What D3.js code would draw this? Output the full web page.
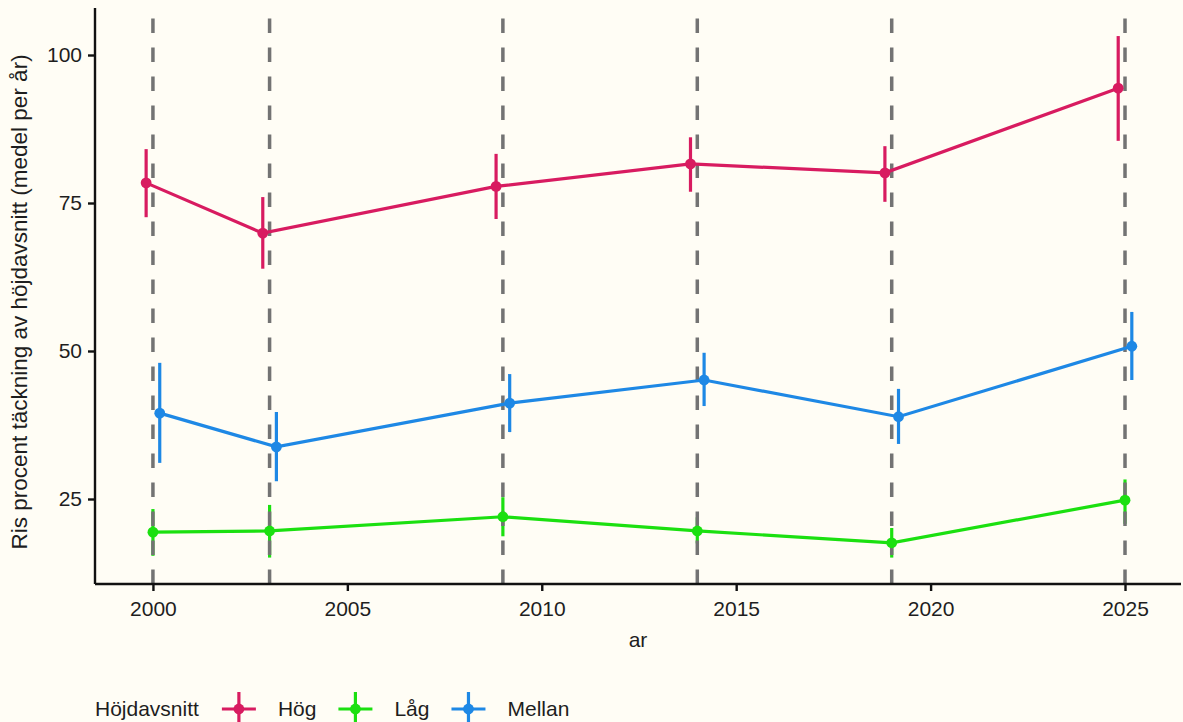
<!DOCTYPE html>
<html>
<head>
<meta charset="utf-8">
<script src="https://cdn.jsdelivr.net/npm/d3@7"></script>
<style>
  html, body { margin: 0; padding: 0; background: #fffdf5; }
  svg { display: block; font-family: "Liberation Sans", Arial, sans-serif; }
</style>
</head>
<body>
<svg id="chart" width="1183" height="722"></svg>
<script>
// Survey years (also where the dashed reference lines sit)
const years = [2000, 2003, 2009, 2014, 2019, 2025];
const groups = ["Hög", "Låg", "Mellan"];
const groupColors = ["#d81b60", "#1be010", "#1e88e5"];

// Mean cover and interval bounds per elevation band
const hogMean  = [78.4, 69.9, 77.8, 81.6, 80.1, 94.4];
const hogLow   = [72.6, 63.9, 72.3, 76.9, 75.2, 85.5];
const hogHigh  = [84.1, 76.0, 83.3, 86.1, 84.6, 103.2];

const lagMean  = [19.4, 19.6, 22.0, 19.6, 17.6, 24.8];
const lagLow   = [15.4, 15.1, 18.7, 17.5, 15.1, 20.8];
const lagHigh  = [23.3, 24.0, 25.3, 21.9, 20.1, 28.3];

const mellanMean = [39.5, 33.8, 41.2, 45.1, 38.9, 50.8];
const mellanLow  = [31.1, 28.0, 36.3, 40.7, 34.3, 45.1];
const mellanHigh = [48.0, 39.7, 46.1, 49.7, 43.6, 56.6];

const xTicks = [2000, 2005, 2010, 2015, 2020, 2025];
const yTicks = [25, 50, 75, 100];

const xTitle = "ar";
const yTitle = "Ris procent täckning av höjdavsnitt (medel per år)";
const legendTitle = "Höjdavsnitt";

const seriesMeans = [hogMean, lagMean, mellanMean];
const seriesLows = [hogLow, lagLow, mellanLow];
const seriesHighs = [hogHigh, lagHigh, mellanHigh];
const dodgeOffsets = [-0.175, 0, 0.175];

const series = groups.map((g, gi) => ({
  name: g,
  color: groupColors[gi],
  points: years.map((yr, i) => ({
    x: yr + dodgeOffsets[gi],
    y: seriesMeans[gi][i],
    lo: seriesLows[gi][i],
    hi: seriesHighs[gi][i]
  }))
}));

const panel = { left: 95, right: 1181, top: 8, bottom: 584 };
const x = d3.scaleLinear().domain([1998.51, 2026.44]).range([panel.left, panel.right]);
const y = d3.scaleLinear().domain([10.64, 107.94]).range([panel.bottom, panel.top]);

const svg = d3.select("#chart");
const fontSize = 21;
const textColor = "#1e1e1e";

svg.append("rect").attr("width", 1183).attr("height", 722).attr("fill", "#fffdf5");

const plot = svg.append("g");

// Interval bars
series.forEach(s => {
  plot.append("g").selectAll("line").data(s.points).join("line")
    .attr("x1", d => x(d.x)).attr("x2", d => x(d.x))
    .attr("y1", d => y(d.lo)).attr("y2", d => y(d.hi))
    .attr("stroke", s.color).attr("stroke-width", 3.2);
});

// Dashed reference lines at each survey year
plot.append("g").selectAll("line").data(years).join("line")
  .attr("x1", d => x(d)).attr("x2", d => x(d))
  .attr("y1", panel.bottom).attr("y2", panel.top)
  .attr("stroke", "#737373").attr("stroke-width", 3.5)
  .attr("stroke-dasharray", "14.5,14.5");

// Trend lines
const lineGen = d3.line().x(d => x(d.x)).y(d => y(d.y));
series.forEach(s => {
  plot.append("path").datum(s.points)
    .attr("d", lineGen)
    .attr("fill", "none").attr("stroke", s.color).attr("stroke-width", 3.2);
});

// Mean points
series.forEach(s => {
  plot.append("g").selectAll("circle").data(s.points).join("circle")
    .attr("cx", d => x(d.x)).attr("cy", d => y(d.y)).attr("r", 5.4)
    .attr("fill", s.color);
});

// Axes
const xAxis = svg.append("g").attr("transform", `translate(0,${panel.bottom})`)
  .call(d3.axisBottom(x).tickValues(xTicks).tickFormat(d3.format("d")).tickSize(7).tickPadding(10));
const yAxis = svg.append("g").attr("transform", `translate(${panel.left},0)`)
  .call(d3.axisLeft(y).tickValues(yTicks).tickSize(7).tickPadding(6));

[xAxis, yAxis].forEach(a => {
  a.select(".domain").attr("stroke", "#111").attr("stroke-width", 2.4);
  a.selectAll(".tick line").attr("stroke", "#111").attr("stroke-width", 2.4);
  a.selectAll(".tick text").attr("fill", textColor).attr("font-size", fontSize)
    .attr("font-family", "Liberation Sans, Arial, sans-serif");
});
// Axis lines span the full panel
xAxis.select(".domain").attr("d", `M${panel.left},0H${panel.right}`);
yAxis.select(".domain").attr("d", `M0,${panel.bottom}V${panel.top}`);

// Axis titles
svg.append("text")
  .attr("x", (panel.left + panel.right) / 2).attr("y", 647)
  .attr("text-anchor", "middle").attr("font-size", fontSize).attr("fill", textColor)
  .text(xTitle);
svg.append("text")
  .attr("transform", `translate(27,302) rotate(-90)`)
  .attr("text-anchor", "middle").attr("font-size", 22.5).attr("fill", textColor)
  .text(yTitle);

// Legend
const legendY = 709;
const legend = svg.append("g");
const lt = legend.append("text").attr("x", 95).attr("y", legendY + 7)
  .attr("font-size", fontSize).attr("fill", textColor).text(legendTitle);
let cursor = 95 + lt.node().getComputedTextLength() + 23;
series.forEach(s => {
  const kx = cursor, kw = 34, cx = kx + kw / 2;
  legend.append("line").attr("x1", kx).attr("x2", kx + kw)
    .attr("y1", legendY).attr("y2", legendY)
    .attr("stroke", s.color).attr("stroke-width", 3.2);
  legend.append("line").attr("x1", cx).attr("x2", cx)
    .attr("y1", legendY - 17).attr("y2", legendY + 17)
    .attr("stroke", s.color).attr("stroke-width", 3.2);
  legend.append("circle").attr("cx", cx).attr("cy", legendY).attr("r", 5.4).attr("fill", s.color);
  const t = legend.append("text").attr("x", kx + kw + 22).attr("y", legendY + 7)
    .attr("font-size", fontSize).attr("fill", textColor).text(s.name);
  cursor = kx + kw + 22 + t.node().getComputedTextLength() + 22;
});
</script>
</body>
</html>
